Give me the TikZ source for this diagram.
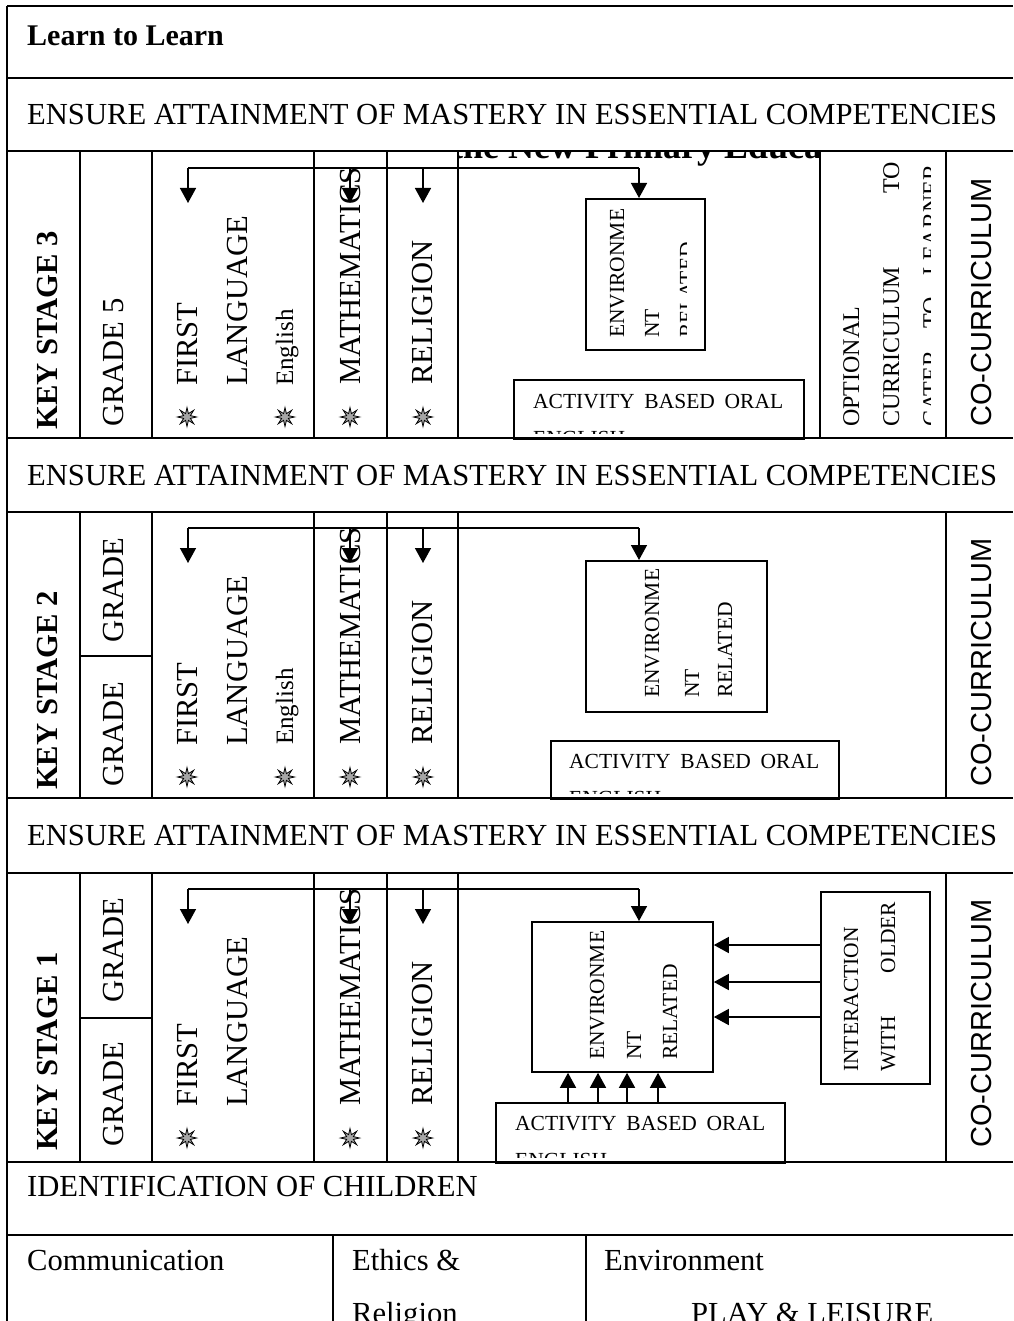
\documentclass[tikz,border=0pt]{standalone}
\usepackage{fontspec}
\setmainfont{Liberation Serif}
\setsansfont{Liberation Sans}
\usetikzlibrary{positioning,arrows.meta,shapes.geometric}

\newcommand{\bigfont}{\fontsize{30.6}{36}\selectfont}
\newcommand{\midfont}{\fontsize{24}{29}\selectfont}
\newcommand{\boxfont}{\fontsize{21.5}{26}\selectfont}

\begin{document}
\begin{tikzpicture}[x=1pt, y=-1pt,
    grid/.style    = {line width=1.8pt},
    box/.style     = {draw, line width=1.8pt, inner sep=0pt, anchor=north west},
    flow/.style    = {line width=1.5pt, -{Triangle[length=15pt,width=16pt]}},
    txt/.style     = {inner sep=0pt, anchor=base west, font=\bigfont},
    vtxt/.style    = {txt, rotate=90},
    boxtxt/.style  = {inner sep=0pt, anchor=base west, font=\boxfont},
    vboxtxt/.style = {boxtxt, rotate=90},
    vmid/.style    = {inner sep=0pt, anchor=base west, rotate=90, font=\midfont},
    bullet/.style  = {star, star points=8, star point ratio=2.6, draw, fill=gray!70,
                      line width=0.8pt, minimum size=19pt, inner sep=0pt}]

  \useasboundingbox (0,0) rectangle (1013,1321);

  % Table lines
  \draw[grid] (7,6) -- (7,1321);
  \foreach \yy in {6,78,151,438,512,798,873,1162,1235}
    \draw[grid] (7,\yy) -- (1013,\yy);
  \foreach \ya/\yb in {151/438,512/798,873/1162}
    \foreach \xx in {80,152,314,387,458,946}
      \draw[grid] (\xx,\ya) -- (\xx,\yb);
  \draw[grid] (820,151) -- (820,438);
  \draw[grid] (80,656) -- (152,656);
  \draw[grid] (80,1018) -- (152,1018);
  \draw[grid] (333,1235) -- (333,1321);
  \draw[grid] (586,1235) -- (586,1321);

  % Row headings
  \node[txt, font=\fontsize{30}{36}\selectfont\bfseries] (learn) at (27,46) {Learn to Learn};
  \node[txt] (ensure3) at (27,125) {ENSURE ATTAINMENT OF MASTERY IN ESSENTIAL COMPETENCIES};
  \node[txt] (ensure2) at (27,485) {ENSURE ATTAINMENT OF MASTERY IN ESSENTIAL COMPETENCIES};
  \node[txt] (ensure1) at (27,845) {ENSURE ATTAINMENT OF MASTERY IN ESSENTIAL COMPETENCIES};
  \node[txt] (ident) at (27,1196) {IDENTIFICATION OF CHILDREN};
  \node[txt] (comm) at (27,1270) {Communication};
  \node[txt] (ethics) at (352,1270) {Ethics \&};
  \node[txt] (relig) at (352,1323) {Religion};
  \node[txt] (envt) at (604,1270) {Environment};
  \node[txt] (play) at (691,1323) {PLAY \& LEISURE};

  % Boxes in the big column
  \node[box, minimum width=119pt, minimum height=151pt] (env3) at (585,198) {};
  \node[box, minimum width=181pt, minimum height=151pt] (env2) at (585,560) {};
  \node[box, minimum width=181pt, minimum height=150pt] (env1) at (531,921) {};
  \node[box, minimum width=109pt, minimum height=192pt] (inter) at (820,891) {};
  \node[box, minimum width=290pt, minimum height=59pt] (act3) at (513,379) {};
  \node[box, minimum width=288pt, minimum height=58pt] (act2) at (550,740) {};
  \node[box, minimum width=289pt, minimum height=60pt] (act1) at (495,1102) {};

  % Columns repeated in every key stage
  \foreach \n/\dy in {3/0,2/360,1/721} {
    \node[vtxt, font=\fontsize{30.6}{36}\selectfont\bfseries] (ks\n) at (57,430+\dy) {KEY STAGE \n};
    \node[vtxt] (first\n) at (197,386+\dy) {FIRST};
    \node[vtxt] (lang\n) at (247,386+\dy) {LANGUAGE};
    \node[vtxt] (math\n) at (360,385+\dy) {MATHEMATICS};
    \node[vtxt] (rel\n) at (432,385+\dy) {RELIGION};
    \node[vtxt, font=\sffamily\fontsize{29}{34}\selectfont] (co\n) at (991,427+\dy) {CO-CURRICULUM};
    \node[bullet] (sf\n) at (187,417+\dy) {};
    \node[bullet] (sm\n) at (350,417+\dy) {};
    \node[bullet] (sr\n) at (423,417+\dy) {};
    \coordinate (bl\n) at (188,168+\dy);
    \coordinate (br\n) at (639,168+\dy);
    \draw[line width=1.5pt] (bl\n) -- (br\n);
    \foreach \xx in {188,350,423}
      \draw[flow] (bl\n -| \xx,0) -- ++(0,35);
    \draw[flow] (br\n) -- (br\n |- env\n.north);
  }

  % Grades and English
  \node[vtxt] (g5) at (123,427) {GRADE 5};
  \node[vtxt] (g2a) at (123,643) {GRADE};
  \node[vtxt] (g2b) at (123,787) {GRADE};
  \node[vtxt] (g1a) at (123,1003) {GRADE};
  \node[vtxt] (g1b) at (123,1147) {GRADE};
  \node[vtxt, font=\fontsize{25}{30}\selectfont] (eng3) at (293,386) {English};
  \node[vtxt, font=\fontsize{25}{30}\selectfont] (eng2) at (293,745) {English};
  \node[bullet] (se3) at (285,417) {};
  \node[bullet] (se2) at (285,777) {};

  % Heading under the table line
  \begin{scope}
    \clip (458,151) rectangle (820,438);
    \node[txt, font=\fontsize{36}{40}\selectfont\bfseries] (npe) at (451,159) {the New Primary Educa};
  \end{scope}

  % Texts in the boxes
  \begin{scope}
    \clip (585,198) rectangle (686,349);
    \node[vboxtxt] (e3a) at (624,338) {ENVIRONME};
    \node[vboxtxt] (e3b) at (659,338) {NT};
    \node[vboxtxt] (e3c) at (694,338) {RELATED};
  \end{scope}
  \node[vboxtxt] (e2a) at (659,698) {ENVIRONME};
  \node[vboxtxt] (e2b) at (699,698) {NT};
  \node[vboxtxt] (e2c) at (732,698) {RELATED};
  \node[vboxtxt] (e1a) at (604,1060) {ENVIRONME};
  \node[vboxtxt] (e1b) at (641,1060) {NT};
  \node[vboxtxt] (e1c) at (677,1060) {RELATED};
  \node[vboxtxt] (i1a) at (858,1072) {INTERACTION};
  \node[vboxtxt] (i1b) at (895,1072) {\makebox[170pt][l]{WITH\hfill OLDER}};

  \foreach \n/\xa/\ya in {3/533/408,2/569/768,1/515/1130} {
    \begin{scope}
      \clip (act\n.north west) rectangle ([yshift=6pt]act\n.south east);
      \node[boxtxt] (a\n) at (\xa,\ya) {\makebox[250pt][s]{ACTIVITY BASED ORAL}};
      \node[boxtxt] (b\n) at (\xa,\ya+37) {ENGLISH};
    \end{scope}
  }

  % Optional curriculum
  \node[vmid] (opt1) at (859,427) {OPTIONAL};
  \node[vmid] (opt2) at (899,427) {\makebox[265pt][l]{CURRICULUM\hfill TO}};
  \begin{scope}
    \clip (820,151) rectangle (930,438);
    \node[vmid] (opt3) at (939,427) {\makebox[262pt][l]{CATER\hfill TO\hfill LEARNER}};
  \end{scope}

  % Arrows into the environment box
  \foreach \yy in {945,982,1017}
    \draw[flow] (inter.west |- 0,\yy) -- (env1.east |- 0,\yy);
  \foreach \xx in {568,598,627,658}
    \draw[flow] (act1.north -| \xx,0) -- (env1.south -| \xx,0);
\end{tikzpicture}
\end{document}
